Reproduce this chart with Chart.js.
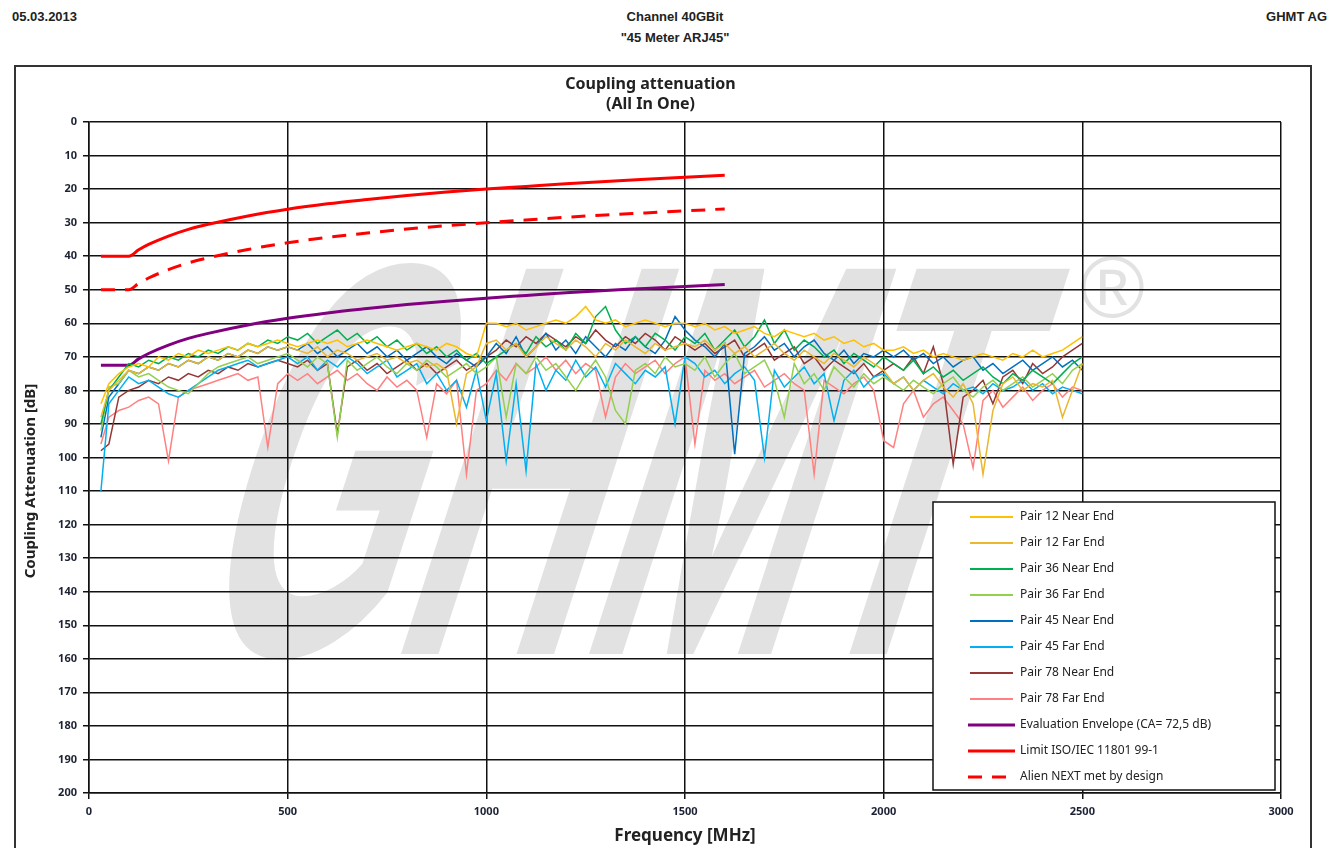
<!DOCTYPE html>
<html>
<head>
<meta charset="utf-8">
<script src="https://cdn.jsdelivr.net/npm/chart.js@4.4.0/dist/chart.umd.min.js"></script>
<style>
  html, body { margin: 0; padding: 0; background: #fff; }
  #page { position: relative; width: 1340px; height: 848px; overflow: hidden; font-family: "Liberation Sans", Arial, sans-serif; }
  .hdr { position: absolute; font-weight: bold; font-size: 13px; color: #222; }
  #frame { position: absolute; left: 14px; top: 65px; width: 1294px; height: 800px; border: 2px solid #333; }
  #mark { position: absolute; left: 335px; top: 180px; font-family: "Liberation Sans", Arial, sans-serif; font-weight: bold;
          font-size: 560px; line-height: 560px; color: #e2e2e2; transform-origin: 0 0; transform: skewX(-18deg) scaleX(0.465); white-space: nowrap; }
  #reg { position: absolute; left: 1080px; top: 236px; font-family: "Liberation Sans", Arial, sans-serif; font-size: 88px; color: #e2e2e2; }
  canvas { position: absolute; left: 0; top: 0; }
</style>
</head>
<body>
<div id="page">
  <div class="hdr" style="left:12px; top:9px;">05.03.2013</div>
  <div class="hdr" style="left:575px; width:200px; top:9px; text-align:center;">Channel 40GBit</div>
  <div class="hdr" style="left:575px; width:200px; top:30px; text-align:center;">"45 Meter ARJ45"</div>
  <div class="hdr" style="right:13px; top:9px;">GHMT AG</div>
  <div id="frame"></div>
  <div id="mark">GHMT</div>
  <div id="reg">®</div>
  <canvas id="chart-coupling" width="1340" height="848"></canvas>
</div>
<script>
// frequencies of the measured pairs (MHz)
var freqs = [30, 50, 75, 100, 125, 150, 175, 200, 225, 250, 275, 300, 325, 350, 375, 400, 425, 450, 475, 500,
    525, 550, 575, 600, 625, 650, 675, 700, 725, 750, 775, 800, 825, 850, 875, 900, 925, 950, 975, 1000,
    1025, 1050, 1075, 1100, 1125, 1150, 1175, 1200, 1225, 1250, 1275, 1300, 1325, 1350, 1375, 1400, 1425, 1450, 1475, 1500,
    1525, 1550, 1575, 1600, 1625, 1650, 1675, 1700, 1725, 1750, 1775, 1800, 1825, 1850, 1875, 1900, 1925, 1950, 1975, 2000,
    2025, 2050, 2075, 2100, 2125, 2150, 2175, 2200, 2225, 2250, 2275, 2300, 2325, 2350, 2375, 2400, 2425, 2450, 2475, 2500];

var pair12Near = [84, 78, 75, 73, 72, 73, 70, 71, 69, 70, 68, 69, 68, 67, 68, 66, 67, 66, 65, 66,
    67, 66, 65, 66, 65, 67, 66, 65, 66, 67, 68, 67, 66, 67, 68, 66, 67, 69, 70, 60,
    60, 61, 60, 62, 61, 60, 59, 60, 58, 55, 59, 60, 59, 61, 60, 59, 60, 61, 60, 60,
    61, 60, 62, 61, 63, 62, 61, 63, 64, 62, 63, 64, 63, 65, 64, 66, 65, 67, 66, 68,
    68, 67, 69, 68, 70, 69, 70, 71, 70, 69, 70, 71, 69, 70, 68, 70, 69, 68, 66, 64];
var pair12Far = [88, 80, 77, 74, 75, 73, 74, 72, 73, 71, 72, 70, 71, 69, 70, 68, 69, 67, 68, 67,
    68, 69, 67, 70, 68, 69, 71, 70, 69, 71, 70, 72, 71, 73, 72, 74, 90, 75, 73, 66,
    65, 68, 66, 70, 67, 64, 66, 68, 65, 67, 70, 66, 68, 65, 67, 69, 66, 68, 67, 66,
    67, 65, 68, 66, 69, 67, 70, 68, 66, 69, 71, 68, 70, 72, 69, 71, 73, 70, 72, 74,
    78, 76, 80, 77, 75, 79, 82, 78, 84, 105, 86, 78, 76, 80, 78, 79, 77, 88, 80, 72];
var pair36Near = [90, 80, 76, 72, 73, 71, 72, 70, 71, 69, 70, 68, 69, 67, 68, 66, 67, 65, 66, 64,
    65, 63, 66, 64, 62, 65, 63, 66, 64, 67, 65, 68, 66, 69, 67, 70, 68, 71, 69, 72,
    70, 68, 66, 69, 64, 67, 65, 68, 63, 66, 58, 55, 62, 66, 64, 67, 63, 65, 68, 64,
    66, 63, 68, 65, 62, 67, 64, 59, 66, 62, 68, 65, 67, 70, 68, 72, 69, 71, 73, 70,
    72, 74, 71, 75, 73, 76, 74, 77, 75, 73, 76, 78, 75, 77, 74, 76, 78, 75, 72, 70];
var pair36Far = [92, 79, 78, 74, 76, 75, 77, 79, 80, 81, 78, 75, 73, 72, 71, 70, 72, 71, 70, 69,
    71, 73, 70, 72, 94, 71, 74, 72, 70, 73, 75, 72, 74, 71, 73, 76, 74, 72, 75, 73,
    70, 88, 72, 75, 70, 74, 72, 76, 80, 75, 71, 76, 86, 90, 74, 72, 75, 70, 73, 72,
    74, 70, 76, 72, 69, 75, 73, 71, 77, 88, 72, 78, 75, 80, 73, 76, 79, 75, 78, 76,
    78, 80, 77, 79, 81, 78, 76, 80, 82, 79, 77, 80, 78, 76, 79, 77, 75, 78, 74, 72];
var pair45Near = [94, 82, 78, 74, 75, 73, 74, 72, 73, 71, 72, 70, 71, 69, 70, 68, 69, 67, 68, 67,
    68, 66, 69, 67, 70, 68, 66, 69, 67, 70, 68, 71, 69, 67, 70, 72, 69, 71, 73, 70,
    66, 69, 64, 70, 67, 63, 68, 65, 69, 64, 67, 70, 66, 68, 64, 67, 69, 65, 58, 62,
    65, 67, 70, 66, 99, 69, 67, 64, 68, 66, 70, 67, 65, 69, 71, 68, 72, 69, 70, 68,
    70, 68, 71, 69, 72, 70, 73, 71, 70, 74, 72, 75, 73, 71, 74, 72, 70, 73, 71, 74];
var pair45Far = [110, 84, 80, 76, 78, 77, 79, 81, 82, 80, 78, 76, 74, 73, 72, 71, 73, 72, 71, 70,
    72, 70, 74, 71, 73, 70, 72, 75, 73, 71, 76, 74, 72, 78, 75, 80, 77, 85, 74, 89,
    75, 101, 78, 104, 72, 80, 74, 77, 71, 76, 73, 79, 72, 75, 78, 74, 76, 73, 90, 70,
    72, 76, 74, 78, 75, 73, 77, 100, 74, 79, 76, 73, 78, 75, 89, 77, 74, 79, 76, 75,
    78, 76, 80, 77, 79, 81, 78, 80, 79, 81, 78, 80, 79, 77, 80, 78, 81, 79, 80, 81];
var pair78Near = [98, 96, 82, 80, 79, 77, 78, 76, 77, 75, 76, 74, 75, 73, 74, 72, 73, 72, 71, 72,
    73, 71, 74, 72, 93, 73, 71, 74, 72, 75, 73, 71, 74, 72, 75, 73, 71, 74, 72, 70,
    68, 65, 67, 64, 66, 63, 65, 67, 64, 66, 62, 65, 67, 64, 66, 63, 65, 68, 64, 66,
    68, 66, 69, 67, 65, 70, 68, 66, 71, 69, 67, 72, 70, 74, 71, 73, 75, 72, 76, 74,
    72, 74, 70, 75, 67, 78, 102, 82, 80, 77, 84, 76, 74, 78, 72, 75, 73, 70, 68, 66];
var pair78Far = [96, 88, 86, 85, 83, 82, 84, 101, 82, 80, 79, 78, 77, 76, 75, 77, 76, 97, 78, 75,
    77, 75, 78, 76, 74, 77, 75, 78, 80, 76, 79, 77, 80, 94, 78, 81, 77, 105, 80, 78,
    74, 77, 72, 75, 73, 70, 74, 71, 75, 72, 74, 88, 76, 72, 75, 73, 71, 75, 72, 70,
    96, 74, 77, 75, 78, 76, 74, 79, 77, 75, 78, 80, 105, 77, 79, 81, 78, 76, 80, 95,
    97, 84, 80, 88, 84, 82, 86, 90, 103, 83, 80, 85, 82, 79, 83, 80, 78, 82, 79, 80];

// limit curves
var limitFreqs = [30, 100, 125, 150, 200, 250, 300, 400, 500, 600, 700, 800, 900, 1000, 1100, 1200, 1300, 1400, 1500, 1600];
var envelope = [72.5, 72.5, 70.6, 69, 66.5, 64.5, 63, 60.5, 58.5, 56.9, 55.6, 54.4, 53.4, 52.5, 51.7, 50.9, 50.2, 49.6, 49, 48.4];
var limitIso = [40, 40, 38.1, 36.5, 34, 32, 30.5, 28, 26, 24.4, 23.1, 21.9, 20.9, 20, 19.2, 18.4, 17.7, 17.1, 16.5, 15.9];
var alienNext = [50, 50, 48.1, 46.5, 44, 42, 40.5, 38, 36, 34.4, 33.1, 31.9, 30.9, 30, 29.2, 28.4, 27.7, 27.1, 26.5, 25.9];

var labels = ['Pair 12 Near End', 'Pair 12 Far End', 'Pair 36 Near End', 'Pair 36 Far End',
    'Pair 45 Near End', 'Pair 45 Far End', 'Pair 78 Near End', 'Pair 78 Far End',
    'Evaluation Envelope (CA= 72,5 dB)', 'Limit ISO/IEC 11801 99-1', 'Alien NEXT met by design'];

var yTitle = 'Coupling Attenuation [dB]';
var chartFont = '"Noto Sans", "Open Sans", sans-serif';

function toPoints(xs, ys) {
    return xs.map(function (x, i) { return { x: x, y: ys[i] }; });
}

function pairSet(label, color, values) {
    return {
        label: label,
        data: toPoints(freqs, values),
        borderColor: color,
        backgroundColor: color,
        borderWidth: 1.5,
        pointRadius: 0,
        fill: false
    };
}

// legend drawn inside the plot, bottom right, like the original report
var boxLegend = {
    id: 'boxLegend',
    afterDatasetsDraw: function (chart) {
        var ctx = chart.ctx;
        var x0 = 933, y0 = 502, w = 342, h = 288;
        ctx.save();
        ctx.fillStyle = '#fff';
        ctx.fillRect(x0, y0, w, h);
        ctx.strokeStyle = '#111';
        ctx.lineWidth = 1.5;
        ctx.strokeRect(x0, y0, w, h);
        ctx.font = '12px ' + chartFont;
        ctx.textBaseline = 'middle';
        chart.data.datasets.forEach(function (ds, i) {
            var y = 517 + i * 26;
            var thick = ds.borderWidth > 2;
            ctx.beginPath();
            ctx.strokeStyle = ds.borderColor;
            ctx.lineWidth = thick ? 3 : 2;
            ctx.setLineDash(ds.borderDash || []);
            ctx.moveTo(thick ? 968 : 970, y);
            ctx.lineTo(thick ? 1015 : 1013, y);
            ctx.stroke();
            ctx.setLineDash([]);
            ctx.fillStyle = '#222';
            ctx.fillText(ds.label, 1020, y);
        });

        // vertical axis title, placed as in the report
        ctx.translate(31, 481);
        ctx.rotate(-Math.PI / 2);
        ctx.font = 'bold 15px ' + chartFont;
        ctx.textAlign = 'center';
        ctx.fillStyle = '#222';
        ctx.fillText(yTitle, 0, 0);
        ctx.restore();
    }
};

var ctx = document.getElementById('chart-coupling');
new Chart(ctx, {
    type: 'line',
    data: {
        datasets: [
            pairSet(labels[0], '#ffc000', pair12Near),
            pairSet(labels[1], '#eab72e', pair12Far),
            pairSet(labels[2], '#00b050', pair36Near),
            pairSet(labels[3], '#92d050', pair36Far),
            pairSet(labels[4], '#0070c0', pair45Near),
            pairSet(labels[5], '#00b0f0', pair45Far),
            pairSet(labels[6], '#953735', pair78Near),
            pairSet(labels[7], '#ff8080', pair78Far),
            {
                label: labels[8], data: toPoints(limitFreqs, envelope),
                borderColor: '#800080', borderWidth: 3, pointRadius: 0, cubicInterpolationMode: 'monotone'
            },
            {
                label: labels[9], data: toPoints(limitFreqs, limitIso),
                borderColor: '#ff0000', borderWidth: 3, pointRadius: 0, cubicInterpolationMode: 'monotone'
            },
            {
                label: labels[10], data: toPoints(limitFreqs, alienNext),
                borderColor: '#ff0000', borderWidth: 3, borderDash: [14, 10], pointRadius: 0, cubicInterpolationMode: 'monotone'
            }
        ]
    },
    options: {
        responsive: false,
        animation: false,
        layout: { padding: { left: 20, right: 59, top: 74, bottom: 0 } },
        plugins: {
            legend: { display: false },
            tooltip: { enabled: false },
            title: {
                display: true,
                text: ['Coupling attenuation', '(All In One)'],
                color: '#222',
                font: { family: chartFont, size: 16, weight: 'bold', lineHeight: 1.25 },
                padding: { top: 0, bottom: 8 }
            }
        },
        scales: {
            x: {
                type: 'linear',
                min: 0, max: 3000,
                ticks: {
                    stepSize: 500, color: '#1c2233', padding: 6,
                    font: { family: chartFont, size: 11, weight: 'bold' },
                    callback: function (v) { return String(v); }
                },
                grid: { color: '#111', lineWidth: 1.5, tickLength: 6 },
                border: { color: '#111', width: 1.5 },
                title: { display: true, text: 'Frequency [MHz]', color: '#222', padding: { top: 0, bottom: 2 },
                    font: { family: chartFont, size: 17, weight: 'bold' } },
                afterFit: function (scale) { scale.height = 55; }
            },
            y: {
                min: 0, max: 200,
                reverse: true,
                ticks: { stepSize: 10, color: '#1c2233', padding: 6, font: { family: chartFont, size: 11, weight: 'bold' } },
                grid: { color: '#111', lineWidth: 1.5, tickLength: 6 },
                border: { color: '#111', width: 1.5 },
                afterFit: function (scale) { scale.width = 69; }
            }
        }
    },
    plugins: [boxLegend]
});
</script>
</body>
</html>
